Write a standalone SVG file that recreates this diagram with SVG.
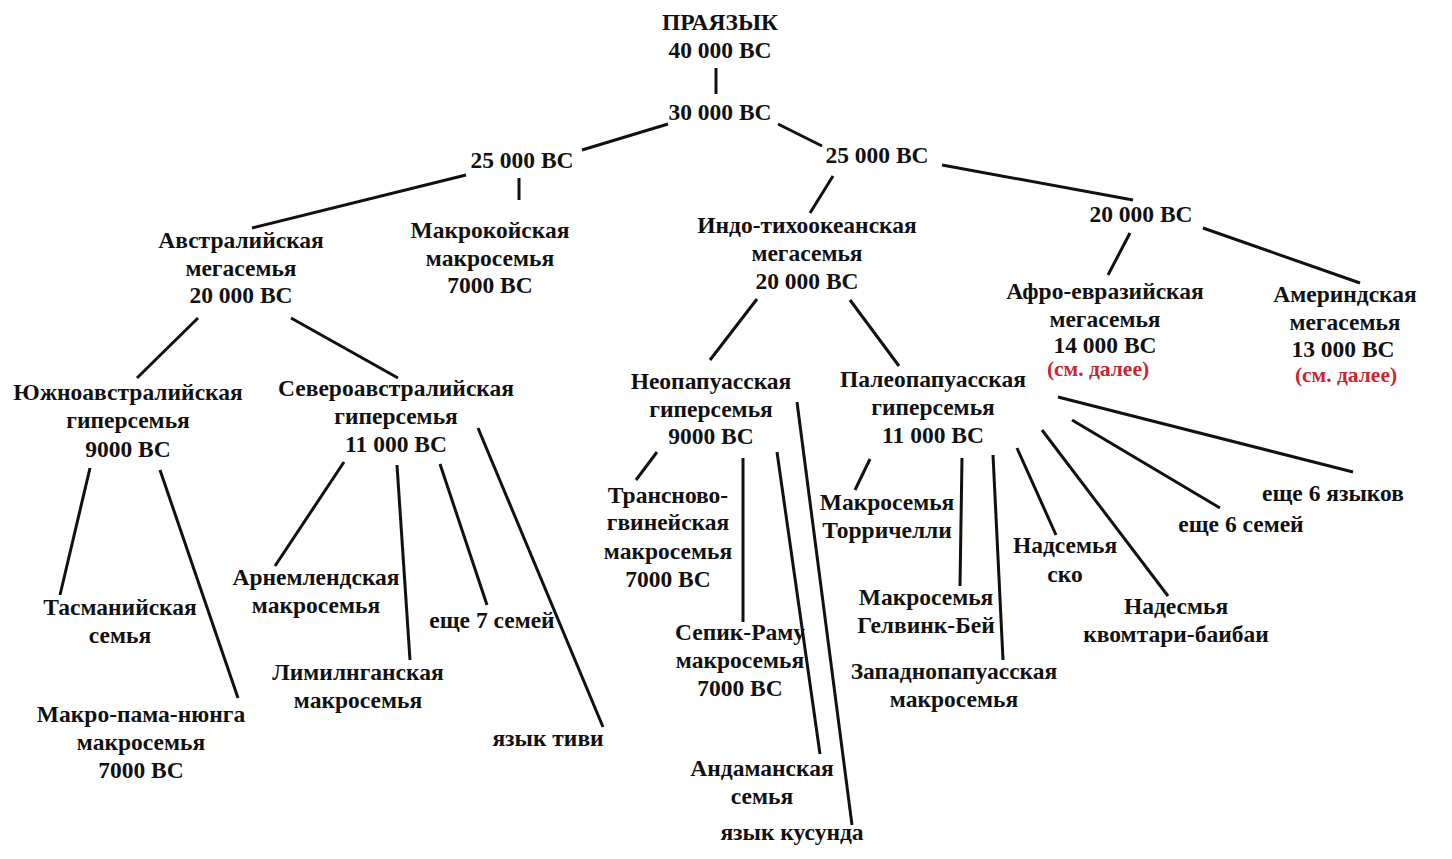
<svg xmlns="http://www.w3.org/2000/svg" width="1452" height="859" viewBox="0 0 1452 859">
<style>
text{font-family:"Liberation Serif","Times New Roman",serif;font-weight:bold;font-size:23.5px;fill:#111;text-anchor:middle}
.red{fill:#c8282d;font-size:21.5px}
.c line{stroke:#111;stroke-width:3;stroke-linecap:butt}
</style>
<rect width="1452" height="859" fill="#fff"/>
<g class="c" id="connectors">
<line x1="716" y1="68" x2="716" y2="94"/>
<line x1="668" y1="124" x2="582" y2="150"/>
<line x1="778" y1="124" x2="822" y2="146"/>
<line x1="466" y1="175" x2="252" y2="228"/>
<line x1="519" y1="178" x2="519" y2="200"/>
<line x1="833" y1="176" x2="810" y2="213"/>
<line x1="942" y1="165" x2="1133" y2="200"/>
<line x1="1130" y1="233" x2="1108" y2="275"/>
<line x1="1203" y1="228" x2="1360" y2="283"/>
<line x1="198" y1="318" x2="137" y2="378"/>
<line x1="291" y1="318" x2="398" y2="378"/>
<line x1="90" y1="468" x2="60" y2="595"/>
<line x1="160" y1="470" x2="238" y2="698"/>
<line x1="344" y1="462" x2="275" y2="566"/>
<line x1="397" y1="465" x2="410" y2="660"/>
<line x1="440" y1="464" x2="487" y2="605"/>
<line x1="478" y1="428" x2="603" y2="727"/>
<line x1="757" y1="299" x2="710" y2="360"/>
<line x1="850" y1="300" x2="899" y2="366"/>
<line x1="657" y1="452" x2="636" y2="480"/>
<line x1="743" y1="458" x2="743" y2="622"/>
<line x1="777" y1="452" x2="820" y2="754"/>
<line x1="797" y1="402" x2="852" y2="825"/>
<line x1="870" y1="459" x2="855" y2="490"/>
<line x1="962" y1="458" x2="960" y2="586"/>
<line x1="993" y1="455" x2="1003" y2="660"/>
<line x1="1017" y1="448" x2="1056" y2="535"/>
<line x1="1042" y1="430" x2="1168" y2="596"/>
<line x1="1072" y1="420" x2="1220" y2="508"/>
<line x1="1058" y1="397" x2="1353" y2="472"/>
</g>
<g id="n-root"><text x="720" y="30">ПРАЯЗЫК</text><text x="720" y="58">40 000 BC</text></g>
<g id="n-30000"><text x="720" y="120">30 000 BC</text></g>
<g id="n-25000-left"><text x="522" y="168">25 000 BC</text></g>
<g id="n-25000-right"><text x="877" y="163">25 000 BC</text></g>
<g id="n-20000-right"><text x="1141" y="222">20 000 BC</text></g>
<g id="n-australian"><text x="241" y="248">Австралийская</text><text x="241" y="276">мегасемья</text><text x="241" y="303">20 000 BC</text></g>
<g id="n-macrokoi"><text x="490" y="238">Макрокойская</text><text x="490" y="266">макросемья</text><text x="490" y="293">7000 BC</text></g>
<g id="n-indopacific"><text x="807" y="233">Индо-тихоокеанская</text><text x="807" y="261">мегасемья</text><text x="807" y="289">20 000 BC</text></g>
<g id="n-afroeurasian"><text x="1105" y="299">Афро-евразийская</text><text x="1105" y="327">мегасемья</text><text x="1105" y="353">14 000 BC</text><text class="red" x="1098" y="376">(см. далее)</text></g>
<g id="n-amerind"><text x="1345" y="302">Америндская</text><text x="1345" y="330">мегасемья</text><text x="1343" y="357">13 000 BC</text><text class="red" x="1346" y="382">(см. далее)</text></g>
<g id="n-southaus"><text x="128" y="400">Южноавстралийская</text><text x="128" y="428">гиперсемья</text><text x="128" y="457">9000 BC</text></g>
<g id="n-northaus"><text x="396" y="396">Североавстралийская</text><text x="396" y="424">гиперсемья</text><text x="396" y="452">11 000 BC</text></g>
<g id="n-tasmanian"><text x="120" y="615">Тасманийская</text><text x="120" y="643">семья</text></g>
<g id="n-pamanyungan"><text x="141" y="722">Макро-пама-нюнга</text><text x="141" y="750">макросемья</text><text x="141" y="778">7000 BC</text></g>
<g id="n-arnhem"><text x="316" y="585">Арнемлендская</text><text x="316" y="613">макросемья</text></g>
<g id="n-limilngan"><text x="358" y="680">Лимилнганская</text><text x="358" y="708">макросемья</text></g>
<g id="n-seven"><text x="492" y="628">еще 7 семей</text></g>
<g id="n-tiwi"><text x="548" y="746">язык тиви</text></g>
<g id="n-neopapuan"><text x="711" y="389">Неопапуасская</text><text x="711" y="417">гиперсемья</text><text x="711" y="444">9000 BC</text></g>
<g id="n-paleopapuan"><text x="933" y="387">Палеопапуасская</text><text x="933" y="415">гиперсемья</text><text x="933" y="443">11 000 BC</text></g>
<g id="n-tng"><text x="668" y="503">Трансново-</text><text x="668" y="530">гвинейская</text><text x="668" y="559">макросемья</text><text x="668" y="587">7000 BC</text></g>
<g id="n-sepik"><text x="740" y="640">Сепик-Раму</text><text x="740" y="668">макросемья</text><text x="740" y="696">7000 BC</text></g>
<g id="n-andaman"><text x="762" y="776">Андаманская</text><text x="762" y="804">семья</text></g>
<g id="n-kusunda"><text x="792" y="840">язык кусунда</text></g>
<g id="n-torricelli"><text x="887" y="510">Макросемья</text><text x="887" y="538">Торричелли</text></g>
<g id="n-geelvink"><text x="926" y="605">Макросемья</text><text x="926" y="633">Гелвинк-Бей</text></g>
<g id="n-westpapuan"><text x="954" y="679">Западнопапуасская</text><text x="954" y="707">макросемья</text></g>
<g id="n-sko"><text x="1065" y="553">Надсемья</text><text x="1065" y="582">ско</text></g>
<g id="n-kwomtari"><text x="1176" y="614">Надесмья</text><text x="1176" y="642">квомтари-баибаи</text></g>
<g id="n-six-families"><text x="1241" y="532">еще 6 семей</text></g>
<g id="n-six-languages"><text x="1333" y="501">еще 6 языков</text></g>
</svg>
